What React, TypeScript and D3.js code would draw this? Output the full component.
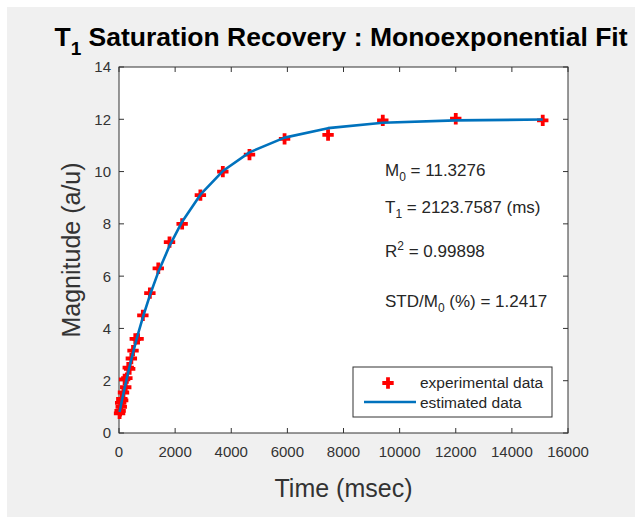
import React from "react";
import * as d3 from "d3";

const times = [20, 40, 60, 80, 100, 130, 160, 200, 240, 280, 330, 380, 440, 500, 580, 680, 850, 1100, 1400, 1800, 2250, 2900, 3700, 4650, 5900, 7450, 9400, 12000, 15100];
const experimental = [0.75, 0.85, 1.15, 1.0, 1.3, 1.25, 1.55, 2.05, 1.75, 2.1, 2.5, 2.45, 2.85, 3.15, 3.6, 3.6, 4.5, 5.35, 6.3, 7.3, 8.0, 9.1, 10.0, 10.65, 11.25, 11.4, 11.96, 12.02, 11.96];
const estimated = [0.806, 0.911, 1.015, 1.118, 1.22, 1.371, 1.52, 1.716, 1.907, 2.096, 2.326, 2.551, 2.814, 3.07, 3.401, 3.796, 4.427, 5.268, 6.155, 7.159, 8.083, 9.115, 10.021, 10.735, 11.298, 11.661, 11.865, 11.96, 11.991];

const xTicks = [0, 2000, 4000, 6000, 8000, 10000, 12000, 14000, 16000];
const yTicks = [0, 2, 4, 6, 8, 10, 12, 14];

const titleMain = "T";
const titleSub = "1";
const titleRest = " Saturation Recovery : Monoexponential Fit";
const xLabel = "Time (msec)";
const yLabel = "Magnitude (a/u)";
const legendLabels = ["experimental data", "estimated data"];

const W = 635;
const H = 517;
const L = 119, R = 568, T = 67, B = 433;
const FONT = "'Liberation Sans', Arial, Helvetica, sans-serif";
const AX = "#333333";

export default function App() {
  const x = d3.scaleLinear().domain([0, 16000]).range([L, R]);
  const y = d3.scaleLinear().domain([0, 14]).range([B, T]);
  const pts = times.map((t, i) => ({ t, e: experimental[i], f: estimated[i] }));
  const line = d3.line<{ t: number; f: number }>().x(d => x(d.t)).y(d => y(d.f));
  const cross = d3.symbol().type(d3.symbolCross).size(72)();
  const tick = 5;

  return (
    <svg width={W} height={H} style={{ position: "absolute", left: 0, top: 0, display: "block" }} fontFamily={FONT}>
      <rect x={0} y={0} width={W} height={H} fill="#ffffff" />
      <rect x={7} y={7} width={W - 7} height={H - 7} fill="#f0f0f0" />
      {/* title */}
      <text x={341} y={46} textAnchor="middle" fontSize={26.5} fontWeight="bold" fill="#000">
        {titleMain}
        <tspan fontSize={19} dy={9}>{titleSub}</tspan>
        <tspan dy={-9}>{titleRest}</tspan>
      </text>
      {/* plot area */}
      <rect x={L} y={T} width={R - L} height={B - T} fill="#ffffff" />
      {/* ticks */}
      {xTicks.map(v => (
        <g key={"xt" + v}>
          <line x1={x(v)} x2={x(v)} y1={B} y2={B - tick} stroke={AX} strokeWidth={1} />
          <line x1={x(v)} x2={x(v)} y1={T} y2={T + tick} stroke={AX} strokeWidth={1} />
          <text x={x(v)} y={457} textAnchor="middle" fontSize={15} fill={AX}>{v}</text>
        </g>
      ))}
      {yTicks.map(v => (
        <g key={"yt" + v}>
          <line x1={L} x2={L + tick} y1={y(v)} y2={y(v)} stroke={AX} strokeWidth={1} />
          <line x1={R} x2={R - tick} y1={y(v)} y2={y(v)} stroke={AX} strokeWidth={1} />
          <text x={111} y={y(v)} dy="0.36em" textAnchor="end" fontSize={15} fill={AX}>{v}</text>
        </g>
      ))}
      <rect x={L} y={T} width={R - L} height={B - T} fill="none" stroke={AX} strokeWidth={1} />
      {/* axis labels */}
      <text x={(L + R) / 2} y={497} textAnchor="middle" fontSize={25} fill={AX}>{xLabel}</text>
      <text transform={`translate(80,${(T + B) / 2}) rotate(-90)`} textAnchor="middle" fontSize={25} fill={AX}>{yLabel}</text>
      {/* data */}
      {pts.map((p, i) => (
        <path key={"p" + i} d={cross} transform={`translate(${x(p.t)},${y(p.e)})`} fill="#ff0000" />
      ))}
      <path d={line(pts) || ""} fill="none" stroke="#0072BD" strokeWidth={2.6} strokeLinejoin="round" />
      {/* annotations */}
      <g fontSize={17} fill="#262626">
        <text x={385} y={176}>M<tspan fontSize={12} dy={5}>0</tspan><tspan dy={-5}> = 11.3276</tspan></text>
        <text x={385} y={213}>T<tspan fontSize={12} dy={5}>1</tspan><tspan dy={-5}> = 2123.7587 (ms)</tspan></text>
        <text x={385} y={257}>R<tspan fontSize={12} dy={-7}>2</tspan><tspan dy={7}> = 0.99898</tspan></text>
        <text x={385} y={307}>STD/M<tspan fontSize={12} dy={5}>0</tspan><tspan dy={-5}> (%) = 1.2417</tspan></text>
      </g>
      {/* legend */}
      <rect x={353} y={367} width={199} height={50} fill="#ffffff" stroke={AX} strokeWidth={1} />
      <path d={cross} transform="translate(388,383)" fill="#ff0000" />
      <line x1={364} x2={416} y1={402} y2={402} stroke="#0072BD" strokeWidth={2.6} />
      <text x={420} y={388} fontSize={15.5} fill="#262626">{legendLabels[0]}</text>
      <text x={420} y={408} fontSize={15.5} fill="#262626">{legendLabels[1]}</text>
    </svg>
  );
}
